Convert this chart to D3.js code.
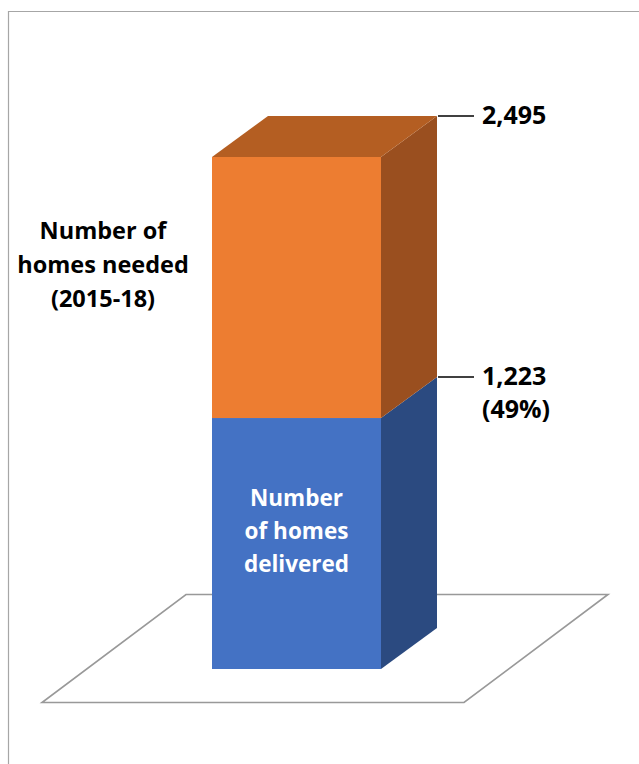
<!DOCTYPE html>
<html>
<head>
<meta charset="utf-8">
<title>Homes delivered vs needed</title>
<script src="https://cdnjs.cloudflare.com/ajax/libs/d3/7.8.5/d3.min.js"></script>
<style>
  body { margin: 0; background: #fff; }
  text { font-family: "Open Sans", Lato, sans-serif; font-weight: bold; }
</style>
</head>
<body>
<div id="chart"></div>
<script>
// stacked segments, bottom to top
var segments = ["delivered", "shortfall"];
var segmentValues = [1223, 1272];
var frontColors = ["#4472C4", "#ED7D31"];
var sideColors = ["#2B4A80", "#9A4F1F"];
var topColor = "#B45E22";
var category = ["2015-18"];
var deliveredLabel = ["Number", "of homes", "delivered"];
var neededLabel = ["Number of", "homes needed", "(2015-18)"];

var W = 639, H = 764;
var svg = d3.select('#chart').append('svg')
    .attr('width', W).attr('height', H);

// running totals for the stack
var tops = d3.cumsum(segmentValues);
var total = tops[tops.length - 1];
var bottoms = [0].concat(Array.from(tops).slice(0, -1));

var y = d3.scaleLinear().domain([0, total]).range([669, 157]);
var x = d3.scaleBand().domain(category).range([212, 381]).padding(0);

// depth offset for the fake 3d
var dx = 56, dy = -41;
var fdx = 144, fdy = -108; // floor depth

// frame
svg.append('path')
    .attr('d', 'M8.5,' + H + 'V11.5H' + W)
    .attr('fill', 'none').attr('stroke', '#a6a6a6').attr('stroke-width', 1.2);

// floor
var fl = 42, fr = 464, fy = 702.5;
svg.append('polygon')
    .attr('points', [[fl, fy], [fr, fy], [fr + fdx, fy + fdy], [fl + fdx, fy + fdy]].join(' '))
    .attr('fill', '#fff').attr('stroke', '#999').attr('stroke-width', 1.6);

var x0 = x(category[0]), x1 = x0 + x.bandwidth();

var seg = svg.selectAll('g.seg')
    .data(segments.map(function(s, i){ return {name: s, lo: bottoms[i], hi: tops[i], i: i}; }))
    .enter().append('g').attr('class', 'seg');

seg.append('polygon')
    .attr('points', function(d){
        return [[x1, y(d.lo)], [x1 + dx, y(d.lo) + dy], [x1 + dx, y(d.hi) + dy], [x1, y(d.hi)]].join(' ');
    })
    .attr('fill', function(d){ return sideColors[d.i]; });

seg.append('rect')
    .attr('x', x0).attr('width', x.bandwidth())
    .attr('y', function(d){ return y(d.hi); })
    .attr('height', function(d){ return y(d.lo) - y(d.hi); })
    .attr('fill', function(d){ return frontColors[d.i]; });

// top face
svg.append('polygon')
    .attr('points', [[x0, y(total)], [x1, y(total)], [x1 + dx, y(total) + dy], [x0 + dx, y(total) + dy]].join(' '))
    .attr('fill', topColor);

// leader lines + value labels
var fmt = d3.format(',');
var pct = d3.format('.0%');
var labelRows = [
    {v: tops[0], lines: [fmt(tops[0]), '(' + pct(tops[0] / total) + ')']},
    {v: total, lines: [fmt(total)]}
];
labelRows.forEach(function(r){
    var ly = y(r.v) + dy;
    svg.append('line')
        .attr('x1', x1 + dx + 1).attr('x2', 474)
        .attr('y1', ly).attr('y2', ly)
        .attr('stroke', '#000').attr('stroke-width', 1.6);
    r.lines.forEach(function(t, k){
        svg.append('text')
            .attr('x', 482).attr('y', ly + 8 + k * 33)
            .attr('font-size', 25).attr('fill', '#000')
            .text(t);
    });
});

// label inside blue block
var cx = (x0 + x1) / 2;
deliveredLabel.forEach(function(t, k){
    svg.append('text')
        .attr('x', cx).attr('y', 506 + k * 33)
        .attr('text-anchor', 'middle')
        .attr('font-size', 22.5).attr('fill', '#fff')
        .text(t);
});

// label for the orange block, left side
neededLabel.forEach(function(t, k){
    svg.append('text')
        .attr('x', 103).attr('y', 239 + k * 34)
        .attr('text-anchor', 'middle')
        .attr('font-size', 23.5).attr('fill', '#000')
        .text(t);
});
</script>
</body>
</html>
